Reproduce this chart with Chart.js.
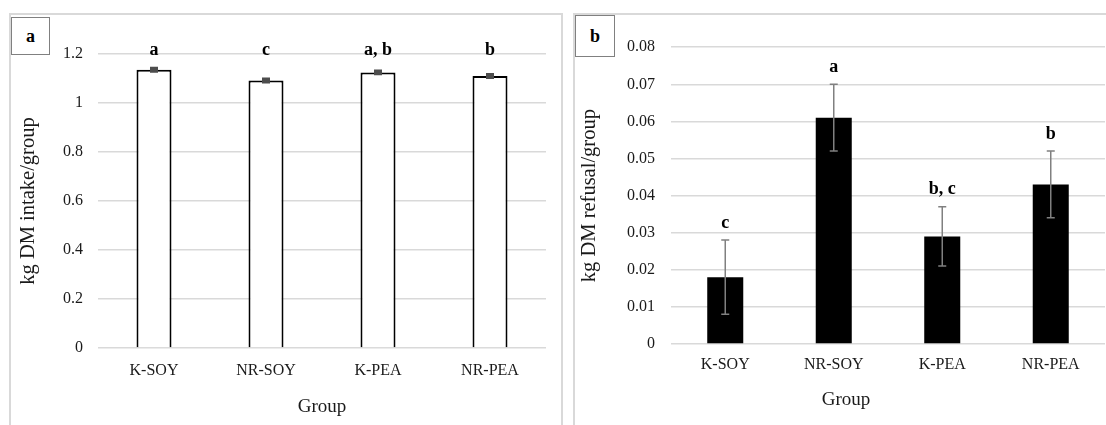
<!DOCTYPE html>
<html>
<head>
<meta charset="utf-8">
<script src="https://cdn.jsdelivr.net/npm/chart.js@4"></script>
<style>
body { margin: 0; width: 1106px; height: 425px; overflow: hidden; background: #fff; position: relative; font-family: "Liberation Serif", serif; }
.panel { position: absolute; border: 2px solid #d9d9d9; box-sizing: border-box; }
#panelA { left: 9px; top: 13px; width: 554px; height: 440px; }
#panelB { left: 573px; top: 13px; width: 560px; height: 440px; }
.tag { position: absolute; border: 1.5px solid #808080; background: #fff; box-sizing: border-box;
       font: bold 18px "Liberation Serif", serif; display: flex; align-items: center; justify-content: center; z-index: 2; }
#tagA { left: 11px; top: 17px; width: 39px; height: 38px; }
#tagB { left: 575px; top: 15px; width: 40px; height: 42px; }
canvas { position: absolute; z-index: 1; }
#chartA { left: 10px; top: 14px; }
#chartB { left: 573px; top: 14px; }
</style>
</head>
<body>
<div class="panel" id="panelA"></div>
<div class="panel" id="panelB"></div>
<div class="tag" id="tagA">a</div>
<div class="tag" id="tagB">b</div>
<canvas id="chartA" width="551" height="411"></canvas>
<canvas id="chartB" width="533" height="411"></canvas>
<script>
const groups = ['K-SOY', 'NR-SOY', 'K-PEA', 'NR-PEA'];

// panel a: intake
const intake = [1.136, 1.092, 1.125, 1.110];
const intakeErr = [0.006, 0.006, 0.006, 0.006];
const intakeLetters = ['a', 'c', 'a, b', 'b'];
const intakeTicks = [0, 0.2, 0.4, 0.6, 0.8, 1, 1.2];

// panel b: refusal
const refusal = [0.018, 0.061, 0.029, 0.043];
const refusalErr = [0.010, 0.009, 0.008, 0.009];
const refusalLetters = ['c', 'a', 'b, c', 'b'];
const refusalTicks = [0, 0.01, 0.02, 0.03, 0.04, 0.05, 0.06, 0.07, 0.08];

const serif = 'Liberation Serif';
const textColor = '#1a1a1a';

// error bars drawn from the dataset values through the y scale
const errBars = {
    id: 'errBars',
    afterDatasetsDraw(chart, args, opts) {
        const ctx = chart.ctx;
        const y = chart.scales.y;
        const values = chart.data.datasets[0].data;
        ctx.save();
        ctx.strokeStyle = opts.color;
        ctx.lineWidth = opts.width;
        chart.getDatasetMeta(0).data.forEach((bar, i) => {
            const top = y.getPixelForValue(values[i] + opts.err[i]);
            const bot = y.getPixelForValue(values[i] - opts.err[i]);
            ctx.beginPath();
            ctx.moveTo(bar.x, top); ctx.lineTo(bar.x, bot);
            ctx.moveTo(bar.x - opts.cap, top); ctx.lineTo(bar.x + opts.cap, top);
            ctx.moveTo(bar.x - opts.cap, bot); ctx.lineTo(bar.x + opts.cap, bot);
            ctx.stroke();
        });
        ctx.restore();
    }
};

// significance letters above each bar
const letters = {
    id: 'letters',
    afterDatasetsDraw(chart, args, opts) {
        const ctx = chart.ctx;
        const y = chart.scales.y;
        const values = chart.data.datasets[0].data;
        ctx.save();
        ctx.font = 'bold 18px "' + serif + '"';
        ctx.fillStyle = '#000';
        ctx.textAlign = 'center';
        ctx.textBaseline = 'middle';
        chart.getDatasetMeta(0).data.forEach((bar, i) => {
            let py;
            if (opts.row !== undefined) {
                py = y.getPixelForValue(opts.row);
            } else {
                py = y.getPixelForValue(values[i] + opts.err[i]) - opts.gap;
            }
            ctx.fillText(opts.text[i], bar.x, py);
        });
        ctx.restore();
    }
};

function yScale(ticks, title, tickPad, titlePad) {
    return {
        min: ticks[0],
        max: ticks[ticks.length - 1],
        afterBuildTicks: (scale) => { scale.ticks = ticks.map(v => ({ value: v })); },
        border: { display: false },
        grid: { color: '#d9d9d9', lineWidth: 1.5, drawTicks: false },
        ticks: {
            padding: tickPad,
            color: textColor,
            font: { family: serif, size: 16 },
            callback: (v) => String(v)
        },
        title: { display: true, text: title, color: textColor, font: { family: serif, size: 20.5 }, padding: titlePad }
    };
}

function xTicks(pad) {
    return { padding: pad, color: textColor, font: { family: serif, size: 16 } };
}

new Chart(document.getElementById('chartA'), {
    type: 'bar',
    data: {
        labels: groups,
        datasets: [{
            data: intake,
            backgroundColor: '#fff',
            borderColor: '#000',
            borderWidth: 2,
            barPercentage: 0.3125,
            categoryPercentage: 1
        }]
    },
    options: {
        responsive: false,
        animation: false,
        devicePixelRatio: 1,
        layout: { padding: { left: 0, top: 40, right: 15, bottom: 0 } },
        scales: {
            x: {
                grid: { display: false, drawTicks: false },
                border: { display: false },
                ticks: xTicks(13),
                title: { display: true, text: 'Group', color: textColor, font: { family: serif, size: 19 }, padding: { top: 2.1, bottom: 6.9 } }
            },
            y: yScale(intakeTicks, 'kg DM intake/group', 15, { top: 6.7, bottom: 6.7 })
        },
        plugins: {
            legend: { display: false },
            tooltip: { enabled: false },
            errBars: { err: intakeErr, color: '#4d4d4d', width: 3, cap: 4 },
            letters: { text: intakeLetters, row: 1.215 }
        }
    },
    plugins: [errBars, letters]
});

new Chart(document.getElementById('chartB'), {
    type: 'bar',
    data: {
        labels: groups,
        datasets: [{
            data: refusal,
            backgroundColor: '#000',
            borderWidth: 0,
            barPercentage: 0.332,
            categoryPercentage: 1
        }]
    },
    options: {
        responsive: false,
        animation: false,
        devicePixelRatio: 1,
        layout: { padding: { left: 14, top: 33.2, right: 1, bottom: 0 } },
        scales: {
            x: {
                grid: { display: false, drawTicks: false },
                border: { display: false },
                ticks: xTicks(11.4)
            },
            y: yScale(refusalTicks, 'kg DM refusal/group', 16, { top: -9.8, bottom: 9.2 })
        },
        plugins: {
            legend: { display: false },
            tooltip: { enabled: false },
            title: {
                display: true,
                text: 'Group',
                position: 'bottom',
                color: textColor,
                font: { family: serif, size: 19, weight: 'normal' },
                padding: { top: 2.6, bottom: 13.6 }
            },
            errBars: { err: refusalErr, color: '#808080', width: 1.5, cap: 4 },
            letters: { text: refusalLetters, err: refusalErr, gap: 17 }
        }
    },
    plugins: [errBars, letters]
});
</script>
</body>
</html>
